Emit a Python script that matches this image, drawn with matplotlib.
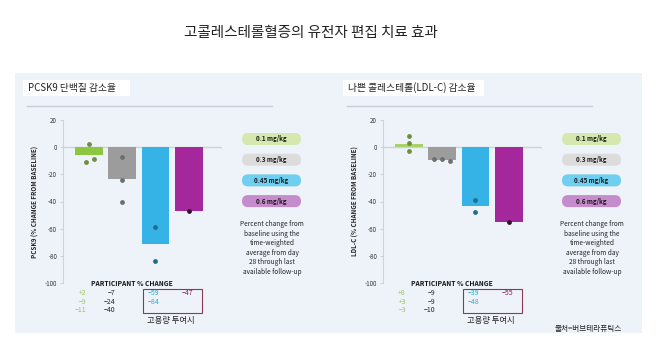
import matplotlib.pyplot as plt
from matplotlib.patches import FancyBboxPatch, Rectangle

plt.rcParams['font.family'] = ['Noto Sans CJK KR', 'DejaVu Sans']

# data
doses = ['0.1 mg/kg', '0.3 mg/kg', '0.45 mg/kg', '0.6 mg/kg']
pcsk9_points = [[2, -9, -11], [-7, -24, -40], [-59, -84], [-47]]
ldl_points = [[8, 3, -3], [-9, -9, -10], [-39, -48], [-55]]
pcsk9_offsets = [[0.0, 0.14, -0.08], [0, 0, 0], [0, 0], [0]]
ldl_offsets = [[0, 0, 0], [-0.24, 0, 0.24], [0, 0], [0]]
pcsk9_labels = [['+2', '−9', '−11'], ['−7', '−24', '−40'], ['−59', '−84'], ['−47']]
ldl_labels = [['+8', '+3', '−3'], ['−9', '−9', '−10'], ['−39', '−48'], ['−55']]

bar_colors = ['#8DC63F', '#9C9C9C', '#35B3E6', '#A4279B']
dot_colors = ['#6E8F3A', '#6E6E6E', '#1E6E8C', '#3A0F2E']
pill_colors = ['#D5E8AE', '#DCDCDC', '#6ECFF0', '#C68BCB']
num_colors = ['#9BC55A', '#222222', '#2AA8D6', '#8A1C55']

W, H = 658, 342
fig = plt.figure(figsize=(W / 100, H / 100), dpi=100)
fig.patch.set_facecolor('white')

# overlay in pixel coordinates
ov = fig.add_axes([0, 0, 1, 1], zorder=0)
ov.set_xlim(0, W)
ov.set_ylim(H, 0)
ov.axis('off')

ov.add_patch(Rectangle((15, 73), 627, 260, facecolor='#EEF3FA', edgecolor='none'))
ov.text(311, 33, '고콜레스테롤혈증의 유전자 편집 치료 효과', fontsize=10.5,
        fontweight='medium', ha='center', va='center', color='#222222')


def panel(x0, points, offsets, labels, subtitle, ylabel, box_w, first_bar):
    # subtitle box and rule line
    ov.add_patch(Rectangle((x0 + 8, 80), box_w, 16, facecolor='white', edgecolor='none'))
    ov.text(x0 + 13, 88, subtitle, fontsize=7, ha='left', va='center', color='#222222')
    ov.plot([x0 + 12, x0 + 257], [106, 106], color='#C9CED6', lw=1)

    ax_left = x0 + 47.7
    ax = fig.add_axes([ax_left / W, 1 - 283 / H, (222 - 62.7) / W, (283 - 120) / H], zorder=2)
    ax.patch.set_alpha(0)
    means = [sum(p) / len(p) for p in points]
    xs = range(len(points))
    ax.bar(xs, means, width=0.83, color=[first_bar] + bar_colors[1:], zorder=2)
    for i, (pts, offs) in enumerate(zip(points, offsets)):
        ax.scatter([i + o for o in offs], pts, s=12, color=dot_colors[i], zorder=3, linewidths=0)
    ax.axhline(0, color='#CDD3DA', lw=1, zorder=1)
    ax.set_xlim(-0.79, 4.0)
    ax.set_ylim(-100, 20)
    ax.set_yticks(range(-100, 21, 20))
    ax.set_yticklabels([str(v) for v in range(-100, 21, 20)], fontsize=4.5, color='#333333')
    ax.set_xticks([])
    for s in ['top', 'right', 'bottom']:
        ax.spines[s].set_visible(False)
    ax.spines['left'].set_color('#CDD3DA')
    ax.tick_params(axis='y', length=2, color='#CDD3DA', pad=2)
    ax.set_ylabel(ylabel, fontsize=4.5, fontweight='bold', color='#222222', labelpad=4)

    # dose legend pills
    px = x0 + 225
    for k, (lab, col) in enumerate(zip(doses, pill_colors)):
        yc = 139 + k * 20.7
        ov.add_patch(FancyBboxPatch((px + 2, yc - 6), 59, 12,
                                    boxstyle='round,pad=0,rounding_size=6',
                                    facecolor=col, edgecolor='none'))
        ov.text(px + 31.5, yc, lab, fontsize=4.5, fontweight='bold', ha='center',
                va='center', color='#1a1a1a')
    note = ['Percent change from', 'baseline using the', 'time-weighted',
            'average from day', '28 through last', 'available follow-up']
    for k, line in enumerate(note):
        ov.text(px + 32, 224 + k * 9.6, line, fontsize=4.7, ha='center', va='center',
                color='#222222')

    # participant table
    ov.text(x0 + 117, 283, 'PARTICIPANT % CHANGE', fontsize=4.8, fontweight='bold',
            ha='center', va='center', color='#111111')
    col_x = [x0 + 71, x0 + 100, x0 + 133, x0 + 167]
    col_ha = ['right', 'right', 'left', 'left']
    for c, labs in enumerate(labels):
        for r, lab in enumerate(labs):
            ov.text(col_x[c], 293 + r * 8.6, lab, fontsize=5, ha=col_ha[c],
                    va='center', color=num_colors[c])
    ov.add_patch(Rectangle((x0 + 128, 289), 59, 24, facecolor='none',
                           edgecolor='#8B3A55', lw=0.8))
    ov.text(x0 + 156, 321, '고용량 투여시', fontsize=6, ha='center', va='center',
            color='#222222')


panel(15, pcsk9_points, pcsk9_offsets, pcsk9_labels, 'PCSK9 단백질 감소율',
      'PCSK9 (% CHANGE FROM BASELINE)', 107, '#8DC63F')
panel(335, ldl_points, ldl_offsets, ldl_labels, '나쁜 콜레스테롤(LDL-C) 감소율',
      'LDL-C (% CHANGE FROM BASELINE)', 141, '#A9D36A')

ov.text(588, 329, '출처=버브테라퓨틱스', fontsize=5.5, ha='center', va='center',
        color='#222222')

fig.savefig('out.png', dpi=100, facecolor='white')
